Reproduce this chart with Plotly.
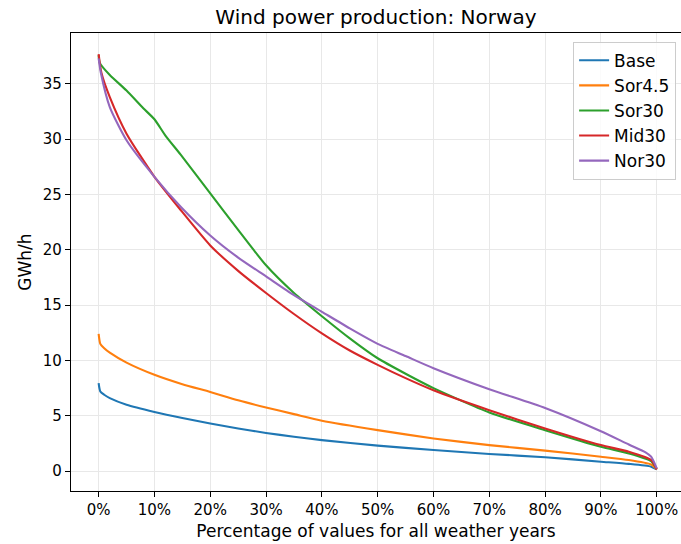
import plotly.graph_objects as go

# Percent positions (x) and values (GWh/h)
base_x = [0, 0.3, 1, 2, 5, 10, 15, 20, 25, 30, 35, 40, 50, 60, 70, 80, 90, 95, 99, 100]
base_y = [7.95, 7.2, 6.9, 6.6, 6.0, 5.35, 4.8, 4.3, 3.85, 3.45, 3.1, 2.8, 2.3, 1.9, 1.55, 1.25, 0.85, 0.65, 0.4, 0.15]

sor45_x = [0, 0.3, 1, 2, 5, 10, 15, 20, 25, 30, 35, 40, 50, 60, 70, 80, 90, 95, 99, 100]
sor45_y = [12.4, 11.5, 11.1, 10.7, 9.8, 8.7, 7.85, 7.15, 6.4, 5.75, 5.15, 4.55, 3.7, 2.95, 2.35, 1.85, 1.3, 1.0, 0.6, 0.2]

sor30_x = [0, 0.2, 2, 5, 8, 10, 12, 14.7, 20, 25, 30, 35, 40, 45, 50, 55, 60, 70, 80, 90, 95, 99, 100]
sor30_y = [37.6, 36.9, 35.8, 34.4, 32.8, 31.8, 30.3, 28.6, 25.1, 21.8, 18.6, 16.1, 14.0, 12.0, 10.2, 8.8, 7.5, 5.3, 3.7, 2.2, 1.6, 0.9, 0.2]

mid30_x = [0, 0.5, 2, 5, 10, 14.7, 20, 25, 30, 35, 40, 45, 50, 55, 60, 70, 80, 90, 95, 99, 100]
mid30_y = [37.7, 36.0, 33.8, 30.5, 26.6, 23.6, 20.4, 18.1, 16.1, 14.2, 12.45, 10.9, 9.6, 8.4, 7.3, 5.5, 3.86, 2.35, 1.75, 1.0, 0.15]

nor30_x = [0, 0.4, 2, 5, 10, 14.7, 20, 25, 30, 35, 40, 45, 50, 55, 60, 70, 80, 90, 95, 98, 99, 100]
nor30_y = [37.3, 36.0, 32.9, 29.9, 26.6, 23.9, 21.3, 19.3, 17.6, 15.9, 14.4, 12.9, 11.5, 10.4, 9.3, 7.4, 5.7, 3.6, 2.4, 1.7, 1.3, 0.25]

series = [
    ("Base", base_x, base_y, "#1f77b4"),
    ("Sor4.5", sor45_x, sor45_y, "#ff7f0e"),
    ("Sor30", sor30_x, sor30_y, "#2ca02c"),
    ("Mid30", mid30_x, mid30_y, "#d62728"),
    ("Nor30", nor30_x, nor30_y, "#9467bd"),
]

x_ticks = list(range(0, 101, 10))
x_tick_labels = [f"{v}%" for v in x_ticks]
y_ticks = list(range(0, 36, 5))

fig = go.Figure()
for name, xs, ys, col in series:
    fig.add_trace(go.Scatter(x=xs, y=ys, mode="lines", name=name,
                             line=dict(color=col, width=2.1, shape="spline", smoothing=0.6)))

font = "DejaVu Sans, Verdana, sans-serif"
fig.update_layout(
    width=681, height=544,
    margin=dict(l=71, r=0, t=33, b=53),
    paper_bgcolor="white", plot_bgcolor="white",
    font=dict(family=font, size=15, color="black"),
    title=dict(text="Wind power production: Norway", x=0.552, xanchor="center",
               y=0.968, yanchor="middle", font=dict(size=20, color="black")),
    legend=dict(x=0.992, y=0.981, xanchor="right", yanchor="top",
                bgcolor="rgba(255,255,255,0.8)", bordercolor="#cccccc", borderwidth=1,
                font=dict(size=17), tracegroupgap=0, itemwidth=30),
    showlegend=True,
)
fig.update_xaxes(
    range=[-4.95, 104.35], tickvals=x_ticks, ticktext=x_tick_labels,
    tickfont=dict(size=15),
    showgrid=True, gridcolor="#e8e8e8", gridwidth=1,
    showline=True, linecolor="black", linewidth=1.2, mirror=True,
    ticks="outside", ticklen=5, tickcolor="black", tickwidth=1.2,
    zeroline=False,
    title=dict(text="Percentage of values for all weather years", standoff=7,
               font=dict(size=17)),
)
fig.update_yaxes(
    range=[-1.8, 39.6], tickvals=y_ticks,
    tickfont=dict(size=15),
    showgrid=True, gridcolor="#e8e8e8", gridwidth=1,
    showline=True, linecolor="black", linewidth=1.2,
    ticks="outside", ticklen=5, tickcolor="black", tickwidth=1.2,
    zeroline=False,
    title=dict(text="GWh/h", standoff=6, font=dict(size=17)),
)

fig.write_html("out.html")
